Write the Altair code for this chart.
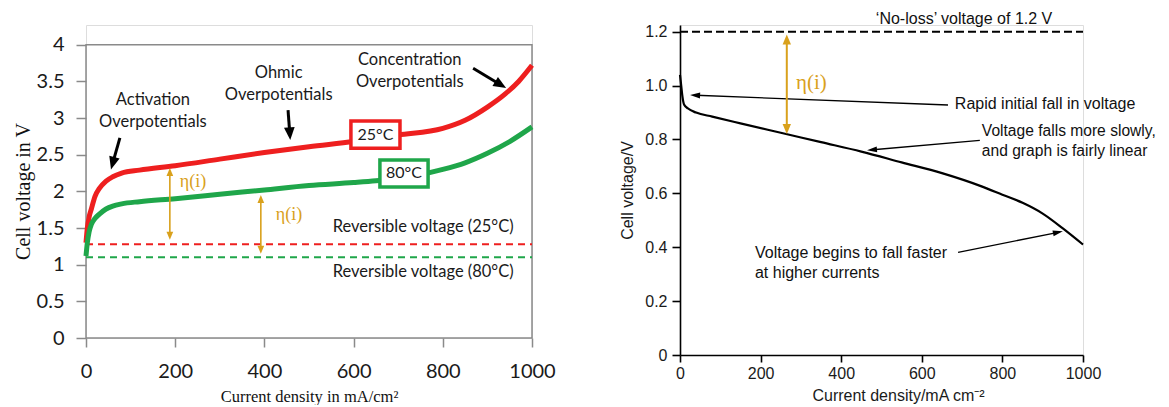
import math
import altair as alt
import pandas as pd

# ---------------- data: left panel ----------------
red_i = [0, 3, 7, 12, 20, 30, 45, 60, 80, 120, 200, 300, 400, 500, 600, 700, 800, 850, 900, 940, 970, 1000]
red_v = [1.30, 1.50, 1.65, 1.76, 1.93, 2.04, 2.14, 2.20, 2.25, 2.29, 2.35, 2.44, 2.53, 2.61, 2.68, 2.77, 2.86, 2.97, 3.15, 3.33, 3.50, 3.72]
green_i = [0, 3, 7, 12, 20, 30, 45, 60, 80, 120, 200, 300, 400, 500, 600, 650, 700, 750, 800, 850, 900, 950, 1000]
green_v = [1.12, 1.30, 1.45, 1.55, 1.63, 1.69, 1.76, 1.80, 1.83, 1.86, 1.90, 1.96, 2.02, 2.08, 2.12, 2.145, 2.18, 2.23, 2.30, 2.39, 2.52, 2.68, 2.88]
rev_25 = 1.28
rev_80 = 1.10
left_xticks = [0, 200, 400, 600, 800, 1000]
left_yticks = [0, 0.5, 1, 1.5, 2, 2.5, 3, 3.5, 4]

# annotations (data coordinates; multi-line labels anchored at their first line)
left_labels = ["Activation\nOverpotentials", "Ohmic\nOverpotentials", "Concentration\nOverpotentials",
               "Reversible voltage (25°C)", "Reversible voltage (80°C)"]
left_label_x = [150, 432, 726, 756, 756]
left_label_y = [3.25, 3.62, 3.79, 1.51, 0.90]
left_black_arrows = [(76, 2.73, 56, 2.30), (453, 3.11, 458, 2.70), (868, 3.68, 942, 3.41)]
left_eta_arrows = [(188, 1.34, 188, 2.32), (392, 1.15, 392, 1.95)]
left_eta_x = [240, 455]
left_eta_y = [2.13, 1.68]
box_labels = ["25°C", "80°C"]
box_x1 = [594, 659]
box_x2 = [704, 767]
box_y1 = [2.59, 2.06]
box_y2 = [2.96, 2.43]

# ---------------- data: right panel ----------------
right_i = [0, 3, 6, 10, 20, 40, 80, 150, 250, 350, 450, 550, 650, 750, 800, 850, 900, 950, 1000]
right_v = [1.04, 1.00, 0.96, 0.93, 0.915, 0.90, 0.885, 0.86, 0.825, 0.79, 0.755, 0.715, 0.675, 0.625, 0.595, 0.565, 0.525, 0.47, 0.41]
no_loss = 1.2
right_xticks = [0, 200, 400, 600, 800, 1000]
right_yticks = [0, 0.2, 0.4, 0.6, 0.8, 1.0, 1.2]
right_labels = ["‘No-loss’ voltage of 1.2 V", "Rapid initial fall in voltage",
                "Voltage falls more slowly,\nand graph is fairly linear",
                "Voltage begins to fall faster\nat higher currents"]
right_label_x = [486, 682, 749, 186]
right_label_y = [1.247, 0.931, 0.833, 0.380]
right_label_size = [16, 16, 15.6, 16]
right_black_arrows = [(665, 0.928, 25, 0.965), (744, 0.797, 464, 0.760), (690, 0.381, 950, 0.459)]
right_eta_arrows = [(265, 0.82, 265, 1.19)]
right_eta_x = [326]
right_eta_y = [1.011]

RED = "#ee1f1f"
GREEN = "#1fa64a"
ORANGE = "#d9a11c"
GRAY = "#8a8a8a"

# ---------------- geometry ----------------
LW, LH = 446, 313
L_YMAX = 4.27
RW, RH = 403, 330
R_YMAX = 1.225


def arrow_frames(arrows, sx, sy, shorten, double=False):
    lines, heads = [], []
    for (x1, y1, x2, y2) in arrows:
        dxp = (x2 - x1) * sx
        dyp = -(y2 - y1) * sy
        L = math.hypot(dxp, dyp)
        ang = (math.degrees(math.atan2(dxp, -dyp)) + 360) % 360
        f = shorten / L
        ex, ey = x2 - (x2 - x1) * f, y2 - (y2 - y1) * f
        sx0, sy0 = x1, y1
        heads.append({"x": x2, "y": y2, "angle": ang})
        if double:
            sx0, sy0 = x1 + (x2 - x1) * f, y1 + (y2 - y1) * f
            heads.append({"x": x1, "y": y1, "angle": (ang + 180) % 360})
        lines.append({"x": sx0, "y": sy0, "x2": ex, "y2": ey})
    return pd.DataFrame(lines), pd.DataFrame(heads)


def arrow_layers(arrows, sx, sy, X, Y, color, width, size, path, shorten, double=False):
    ldf, hdf = arrow_frames(arrows, sx, sy, shorten, double)
    rule = alt.Chart(ldf).mark_rule(color=color, strokeWidth=width).encode(
        x=X("x"), y=Y("y"), x2="x2:Q", y2="y2:Q")
    head = alt.Chart(hdf).mark_point(shape=path, filled=True, color=color, size=size, opacity=1,
                                     strokeWidth=0).encode(
        x=X("x"), y=Y("y"), angle=alt.Angle("angle:Q", scale=None))
    return [rule, head]


# ---------------- left chart ----------------
lx_scale = alt.Scale(domain=[0, 1000], nice=False, zero=False)
ly_scale = alt.Scale(domain=[0, L_YMAX], nice=False, zero=False)
lx_axis = alt.Axis(values=left_xticks, domain=False, grid=False, tickColor=GRAY, tickSize=9, tickWidth=1.5,
                   labelFont="Lato", labelFontSize=20, labelColor="#1a1a1a", labelPadding=14,
                   labelFlush=False, labelExpr="format(datum.value, 'd')",
                   title="Current density in mA/cm²", titleFont="Liberation Serif", titleFontSize=16.5,
                   titleFontWeight="normal", titleColor="#111111", titlePadding=7)
ly_axis = alt.Axis(values=left_yticks, domain=False, grid=False, tickColor=GRAY, tickSize=10, tickWidth=1.5,
                   labelFont="Lato", labelFontSize=20, labelColor="#1a1a1a", labelPadding=12,
                   labelFlush=False, labelExpr="format(datum.value, '~g')",
                   title="Cell voltage in V", titleFont="Liberation Serif", titleFontSize=20,
                   titleFontWeight="normal", titleColor="#111111", titlePadding=3, titleY=166)


def LX(f):
    return alt.X(f + ":Q", scale=lx_scale, axis=lx_axis)


def LY(f):
    return alt.Y(f + ":Q", scale=ly_scale, axis=ly_axis)


frame = alt.Chart(pd.DataFrame({"x": [0], "x2": [1000], "y": [0], "y2": [4]})).mark_rect(
    fillOpacity=0, stroke=GRAY, strokeWidth=1.5).encode(x=LX("x"), x2="x2:Q", y=LY("y"), y2="y2:Q")

red_line = alt.Chart(pd.DataFrame({"x": red_i, "y": red_v})).mark_line(
    color=RED, strokeWidth=5, interpolate="monotone").encode(x=LX("x"), y=LY("y"))
green_line = alt.Chart(pd.DataFrame({"x": green_i, "y": green_v})).mark_line(
    color=GREEN, strokeWidth=5, interpolate="monotone").encode(x=LX("x"), y=LY("y"))

rev_df = pd.DataFrame({"x": [0, 0], "x2": [1000, 1000], "y": [rev_25, rev_80], "c": [RED, GREEN]})
rev_rules = alt.Chart(rev_df).mark_rule(strokeWidth=2, strokeDash=[7, 5]).encode(
    x=LX("x"), x2="x2:Q", y=LY("y"), color=alt.Color("c:N", scale=None))

box_df = pd.DataFrame({"x": box_x1, "x2": box_x2, "y": box_y1, "y2": box_y2,
                       "c": [RED, GREEN], "t": box_labels,
                       "xm": [(a + b) / 2 for a, b in zip(box_x1, box_x2)],
                       "ym": [(a + b) / 2 for a, b in zip(box_y1, box_y2)]})
boxes = alt.Chart(box_df).mark_rect(fill="white", strokeWidth=3.5).encode(
    x=LX("x"), x2="x2:Q", y=LY("y"), y2="y2:Q", stroke=alt.Stroke("c:N", scale=None))
box_text = alt.Chart(box_df).mark_text(font="Lato", fontSize=16, color="#1a1a1a",
                                       baseline="middle", align="center").encode(
    x=LX("xm"), y=LY("ym"), text="t:N")

ltext = alt.Chart(pd.DataFrame({"x": left_label_x, "y": left_label_y, "t": left_labels})).mark_text(
    font="Lato", fontSize=16.5, color="#1a1a1a", lineBreak="\n", lineHeight=22,
    align="center", baseline="middle").encode(x=LX("x"), y=LY("y"), text="t:N")

leta = alt.Chart(pd.DataFrame({"x": left_eta_x, "y": left_eta_y, "t": ["η(i)"] * 2})).mark_text(
    font="Liberation Serif", fontSize=18, color=ORANGE, align="center", baseline="middle").encode(
    x=LX("x"), y=LY("y"), text="t:N")

HEAD = "M0,0L0.42,1L-0.42,1Z"
HEAD_NARROW = "M0,0L0.3,1L-0.3,1Z"
lsx, lsy = LW / 1000.0, LH / L_YMAX

left_layers = [frame, rev_rules, red_line, green_line, boxes, box_text, ltext, leta]
left_layers += arrow_layers(left_black_arrows, lsx, lsy, LX, LY, "black", 3, 650, HEAD, 8)
left_layers += arrow_layers(left_eta_arrows, lsx, lsy, LX, LY, ORANGE, 1.6, 256, HEAD, 5, double=True)

left = alt.layer(*left_layers).properties(width=LW, height=LH)

# ---------------- right chart ----------------
rx_scale = alt.Scale(domain=[0, 1000], nice=False, zero=False)
ry_scale = alt.Scale(domain=[0, R_YMAX], nice=False, zero=False)
rx_axis = alt.Axis(values=right_xticks, domain=True, domainColor="black", domainWidth=1.6, grid=False,
                   tickColor="black", tickSize=7, tickWidth=1.6,
                   labelFont="Liberation Sans", labelFontSize=16, labelColor="#1a1a1a", labelPadding=3,
                   labelFlush=False, labelExpr="format(datum.value, 'd')",
                   title="Current density/mA cm⁻²", titleFont="Liberation Sans", titleFontSize=16,
                   titleFontWeight="normal", titleColor="#1a1a1a", titlePadding=6,
                   titleX=218, titleAlign="center")
ry_axis = alt.Axis(values=right_yticks, domain=True, domainColor="black", domainWidth=1.6, grid=False,
                   tickColor="black", tickSize=8, tickWidth=1.6,
                   labelFont="Liberation Sans", labelFontSize=16, labelColor="#1a1a1a", labelPadding=5,
                   labelFlush=False,
                   labelExpr="datum.value == 0 ? '0' : format(datum.value, '.1f')",
                   title="Cell voltage/V", titleFont="Liberation Sans", titleFontSize=16,
                   titleFontWeight="normal", titleColor="#1a1a1a", titlePadding=9)


def RX(f):
    return alt.X(f + ":Q", scale=rx_scale, axis=rx_axis)


def RY(f):
    return alt.Y(f + ":Q", scale=ry_scale, axis=ry_axis)


r_curve = alt.Chart(pd.DataFrame({"x": right_i, "y": right_v})).mark_line(
    color="black", strokeWidth=2.2, interpolate="monotone").encode(x=RX("x"), y=RY("y"))

nl_rule = alt.Chart(pd.DataFrame({"x": [0], "x2": [1000], "y": [no_loss]})).mark_rule(
    color="black", strokeWidth=1.8, strokeDash=[8, 4]).encode(x=RX("x"), x2="x2:Q", y=RY("y"))

rtext = alt.Chart(pd.DataFrame({"x": right_label_x, "y": right_label_y,
                                "t": right_labels, "s": right_label_size})).mark_text(
    font="Liberation Sans", color="#111111", align="left", baseline="middle",
    lineBreak="\n", lineHeight=20).encode(
    x=RX("x"), y=RY("y"), text="t:N", size=alt.Size("s:Q", scale=None, legend=None))

reta = alt.Chart(pd.DataFrame({"x": right_eta_x, "y": right_eta_y, "t": ["η(i)"]})).mark_text(
    font="Liberation Serif", fontSize=21, color=ORANGE, align="center", baseline="middle").encode(
    x=RX("x"), y=RY("y"), text="t:N")

rsx, rsy = RW / 1000.0, RH / R_YMAX
right_layers = [nl_rule, r_curve, rtext, reta]
right_layers += arrow_layers(right_black_arrows, rsx, rsy, RX, RY, "black", 1.3, 400, HEAD_NARROW, 6)
right_layers += arrow_layers(right_eta_arrows, rsx, rsy, RX, RY, ORANGE, 2, 400, HEAD, 6, double=True)

right = alt.layer(*right_layers).properties(width=RW, height=RH)

chart = alt.hconcat(left, right, spacing=63).properties(
    padding={"left": 4, "top": 2, "right": 0, "bottom": 0}
).configure_view(strokeWidth=0).configure(background="white")

chart.save("out.html", embed_options={"renderer": "svg", "actions": False})
